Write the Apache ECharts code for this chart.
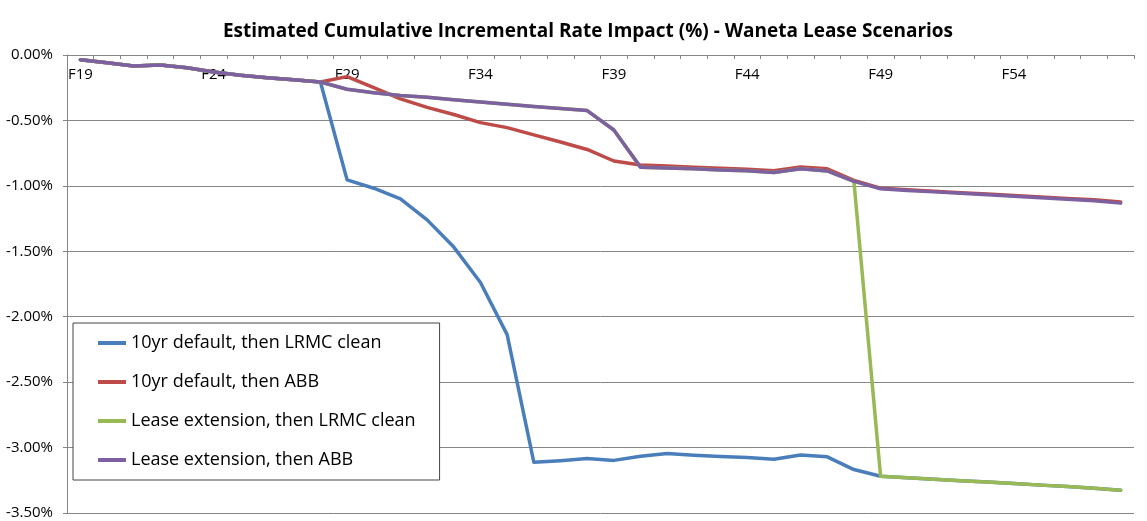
<!DOCTYPE html>
<html>
<head>
<meta charset="utf-8">
<script src="https://cdn.jsdelivr.net/npm/echarts@6/dist/echarts.min.js"></script>
<style>
html,body{margin:0;padding:0;background:#fff;}
#chart{width:1147px;height:521px;}
</style>
</head>
<body>
<div id="chart"></div>
<script>
const categories = ['F19','F20','F21','F22','F23','F24','F25','F26','F27','F28',
  'F29','F30','F31','F32','F33','F34','F35','F36','F37','F38',
  'F39','F40','F41','F42','F43','F44','F45','F46','F47','F48',
  'F49','F50','F51','F52','F53','F54','F55','F56','F57','F58'];

const seriesNames = ['10yr default, then LRMC clean','10yr default, then ABB','Lease extension, then LRMC clean','Lease extension, then ABB'];

const defaultLrmc = [-0.036,-0.060,-0.084,-0.077,-0.097,-0.130,-0.155,-0.174,-0.190,-0.206,
  -0.954,-1.018,-1.100,-1.260,-1.468,-1.738,-2.137,-3.112,-3.100,-3.084,
  -3.098,-3.066,-3.046,-3.059,-3.069,-3.076,-3.089,-3.056,-3.071,-3.168,
  -3.219,-3.230,-3.242,-3.253,-3.264,-3.275,-3.287,-3.298,-3.310,-3.326];

const defaultAbb = [-0.036,-0.060,-0.084,-0.077,-0.097,-0.130,-0.155,-0.174,-0.190,-0.206,
  -0.165,-0.250,-0.335,-0.400,-0.455,-0.517,-0.555,-0.610,-0.665,-0.722,
  -0.810,-0.840,-0.848,-0.858,-0.866,-0.873,-0.885,-0.855,-0.870,-0.958,
  -1.018,-1.030,-1.041,-1.052,-1.063,-1.074,-1.085,-1.096,-1.107,-1.124];

const extensionLrmc = [-0.036,-0.060,-0.084,-0.077,-0.097,-0.130,-0.155,-0.174,-0.190,-0.206,
  -0.262,-0.288,-0.310,-0.323,-0.342,-0.360,-0.377,-0.394,-0.408,-0.425,
  -0.573,-0.857,-0.863,-0.870,-0.878,-0.885,-0.898,-0.870,-0.886,-0.966,
  -3.219,-3.230,-3.242,-3.253,-3.264,-3.275,-3.287,-3.298,-3.310,-3.326];

const extensionAbb = [-0.036,-0.060,-0.084,-0.077,-0.097,-0.130,-0.155,-0.174,-0.190,-0.206,
  -0.262,-0.288,-0.310,-0.323,-0.342,-0.360,-0.377,-0.394,-0.408,-0.425,
  -0.573,-0.857,-0.863,-0.870,-0.878,-0.885,-0.898,-0.870,-0.886,-0.966,
  -1.023,-1.035,-1.046,-1.057,-1.068,-1.079,-1.091,-1.102,-1.114,-1.132];

const colors = ['#4A7EBB','#BE4B48','#98B954','#7D60A0'];
const dataSets = [defaultLrmc, defaultAbb, extensionLrmc, extensionAbb];

const chart = echarts.init(document.getElementById('chart'), null, {renderer:'canvas'});
const font = '"Open Sans", sans-serif';

chart.setOption({
  animation: false,
  backgroundColor: '#fff',
  title: {
    text: 'Estimated Cumulative Incremental Rate Impact (%) - Waneta Lease Scenarios',
    left: 583, top: 17, textAlign: 'center',
    textStyle: {fontFamily: font, fontWeight: 'bold', fontSize: 19, color: '#000'}
  },
  legend: {
    orient: 'vertical',
    left: 73, top: 323,
    padding: [10, 24, 10, 25],
    itemGap: 19,
    itemWidth: 28, itemHeight: 4,
    icon: 'rect',
    borderColor: '#444', borderWidth: 1,
    backgroundColor: '#fff',
    selectedMode: false,
    textStyle: {fontFamily: font, fontSize: 18, color: '#000', lineHeight: 20},
    data: seriesNames
  },
  grid: {left: 67, right: 13, top: 55, bottom: 8, containLabel: false},
  xAxis: {
    type: 'category',
    position: 'top',
    data: categories,
    boundaryGap: true,
    axisLine: {show: true, lineStyle: {color: '#868686', width: 1}},
    axisTick: {show: true, inside: true, interval: 0, length: 4, lineStyle: {color: '#868686'}},
    axisLabel: {inside: true, interval: 4, margin: 12, fontFamily: font, fontSize: 15, color: '#000'},
    splitLine: {show: false}
  },
  yAxis: {
    type: 'value',
    min: -3.5, max: 0, interval: 0.5,
    axisLine: {show: true, lineStyle: {color: '#868686', width: 1}},
    axisTick: {show: true, length: 4, lineStyle: {color: '#868686'}},
    axisLabel: {margin: 14, fontFamily: font, fontSize: 15, color: '#000',
      formatter: v => v.toFixed(2) + '%'},
    splitLine: {show: true, lineStyle: {color: '#868686', width: 1}}
  },
  series: seriesNames.map((name, i) => ({
    name: name,
    type: 'line',
    data: dataSets[i],
    symbol: 'none',
    smooth: false,
    color: colors[i],
    lineStyle: {color: colors[i], width: 3.5, join: 'round', cap: 'round'},
    z: 2 + i
  }))
});
</script>
</body>
</html>
